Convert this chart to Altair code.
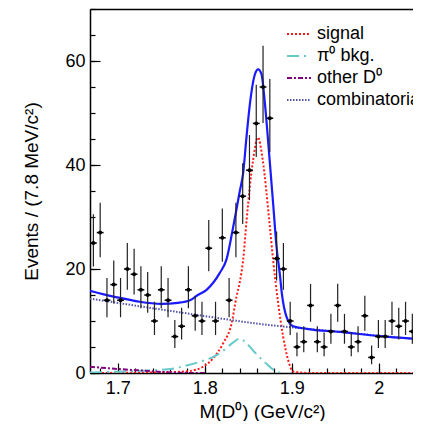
import altair as alt
import pandas as pd
import numpy as np

# ---------------- data ----------------
BIN_LO = 1.668
BIN_W = 0.0078
counts = [25, 27, 14, 17, 14, 20, 19, 16, 15, 10,
          16, 14, 7, 9, 16, 11, 10, 24, 10, 26,
          14, 27, 34, 39, 48, 55, 49, 22, 20, 10,
          5, 6, 13, 6, 5, 8, 13, 8, 5, 6,
          11, 3, 7, 7, 10, 9, 10, 8, 10]

total_m = [1.668, 1.695, 1.704, 1.725, 1.750, 1.769, 1.783, 1.792, 1.802, 1.817,
           1.825, 1.8325, 1.8402, 1.844, 1.8479, 1.8517, 1.8575, 1.8613, 1.8652, 1.869,
           1.8747, 1.8785, 1.8824, 1.8862, 1.8885, 1.8939, 1.9015, 1.9169, 1.9552, 2.0011, 2.0484]
total_v = [15.8, 14.7, 14.4, 13.7, 13.3, 13.5, 14.0, 15.0, 16.0, 19.2,
           21.9, 28.0, 35.0, 38.4, 45.4, 51.6, 57.4, 58.4, 57.4, 51.9,
           40.5, 32.6, 24.3, 19.0, 15.3, 10.8, 9.0, 8.5, 7.9, 7.1, 6.5]

signal_m = [1.668, 1.76, 1.7828, 1.798, 1.8095, 1.821, 1.8307, 1.8364, 1.8402, 1.844,
            1.848, 1.8555, 1.861, 1.8665, 1.874, 1.8785, 1.8843, 1.890, 1.8957, 1.9015,
            1.92, 2.0484]
signal_v = [0.0, 0.15, 0.4, 1.2, 2.8, 5.7, 9.5, 14.7, 17.5, 21.7,
            29.4, 41.0, 45.3, 41.0, 29.4, 21.7, 13.4, 7.0, 2.5, 0.3,
            0.0, 0.0]

pi0_m = [1.668, 1.70, 1.735, 1.7575, 1.780, 1.797, 1.811, 1.822, 1.832, 1.840,
         1.848, 1.855, 1.870, 1.882, 1.890]
pi0_v = [0.1, 0.25, 0.5, 0.7, 1.5, 2.3, 3.2, 4.4, 5.8, 6.6,
         5.7, 4.4, 1.9, 0.3, 0.0]

other_m = [1.668, 1.69, 1.715, 1.73, 1.75, 1.77, 1.80]
other_v = [1.2, 0.9, 0.6, 0.45, 0.2, 0.05, 0.0]

comb_m = [1.668, 1.790, 1.860, 1.95, 2.0484]
comb_v = [14.3, 11.2, 9.5, 8.0, 6.4]

comp_names = ["signal", "\u03c0\u2070 bkg.", "other D\u2070", "combinatorial"]
comp_colors = ["#ff1a1a", "#66c9c9", "#800080", "#5555aa"]
comp_dashes = [[2, 2], [12, 5, 2, 5], [5, 2, 2, 2], [1.5, 1.5]]

x_major = [1.7, 1.8, 1.9, 2.0]
x_minor = [round(1.68 + 0.02 * k, 2) for k in range(19)]
y_major = [0, 20, 40, 60]
y_minor = list(range(0, 71, 5))

# ---------------- tables ----------------
n = np.array(counts, dtype=float)
centers = BIN_LO + BIN_W * (np.arange(len(counts)) + 0.5)
pts = pd.DataFrame({
    "m": centers,
    "mlo": centers - BIN_W / 2,
    "mhi": centers + BIN_W / 2,
    "n": n,
    "lo": n + 0.5 - np.sqrt(n + 0.25),
    "hi": n + 0.5 + np.sqrt(n + 0.25),
})
tot = pd.DataFrame({"m": total_m, "v": total_v})
comp = pd.concat([
    pd.DataFrame({"m": signal_m, "v": signal_v, "comp": comp_names[0]}),
    pd.DataFrame({"m": pi0_m, "v": pi0_v, "comp": comp_names[1]}),
    pd.DataFrame({"m": other_m, "v": other_v, "comp": comp_names[2]}),
    pd.DataFrame({"m": comb_m, "v": comb_v, "comp": comp_names[3]}),
])

W, H = 323, 364
X_MAX = 1.668 + W / 870.0
FONT = "Liberation Sans"

sx = alt.Scale(domain=[1.668, X_MAX], nice=False, zero=False)
sy = alt.Scale(domain=[0, 70], nice=False)

ax_x_lab = alt.Axis(orient="bottom", values=x_major, format="~g", ticks=False, grid=False,
                    domain=True, domainColor="black", domainWidth=1.5,
                    labelFontSize=18, labelPadding=6, labelColor="black", labelFont=FONT,
                    title="M(D\u2070) (GeV/c\u00b2)", titleFontSize=19, titleFont=FONT,
                    titleFontWeight="normal", titleColor="black",
                    titleX=172, titleY=44, titleBaseline="alphabetic", titleAlign="center")
ax_x_major = alt.Axis(orient="top", offset=-H, values=x_major, labels=False, ticks=True,
                      tickSize=10, tickWidth=1.2, tickColor="black", domain=False, grid=False, title=None)
ax_x_minor = alt.Axis(orient="top", offset=-H, values=x_minor, labels=False, ticks=True,
                      tickSize=5, tickWidth=1.2, tickColor="black", domain=False, grid=False, title=None)
ax_x_top = alt.Axis(orient="top", labels=False, ticks=False, domain=True, domainColor="black",
                    domainWidth=1.5, grid=False, title=None)

ax_y_lab = alt.Axis(orient="left", values=y_major, ticks=False, grid=False,
                    domain=True, domainColor="black", domainWidth=1.5,
                    labelFontSize=18, labelPadding=5, labelColor="black", labelFont=FONT,
                    title="Events / (7.8 MeV/c\u00b2)", titleFontSize=19, titleFont=FONT,
                    titleFontWeight="normal", titleColor="black",
                    titleX=-59, titleY=182, titleAngle=270, titleAlign="center",
                    titleBaseline="middle")
ax_y_major = alt.Axis(orient="right", offset=-W, values=y_major, labels=False, ticks=True,
                      tickSize=10, tickWidth=1.2, tickColor="black", domain=False, grid=False, title=None)
ax_y_minor = alt.Axis(orient="right", offset=-W, values=y_minor, labels=False, ticks=True,
                      tickSize=5, tickWidth=1.2, tickColor="black", domain=False, grid=False, title=None)

leg = alt.Legend(title=None, orient="none", legendX=196, legendY=12, symbolType="stroke",
                 symbolSize=576, symbolStrokeWidth=2, labelFontSize=18, labelFont=FONT,
                 labelColor="black", labelOffset=5, rowPadding=0, padding=0, labelLimit=300)

comps = alt.Chart(comp).mark_line(strokeWidth=2, interpolate="monotone", clip=True).encode(
    x=alt.X("m:Q", scale=sx, axis=ax_x_top),
    y=alt.Y("v:Q", scale=sy, axis=None),
    color=alt.Color("comp:N", scale=alt.Scale(domain=comp_names, range=comp_colors), legend=leg),
    strokeDash=alt.StrokeDash("comp:N", scale=alt.Scale(domain=comp_names, range=comp_dashes), legend=leg),
)

total = alt.Chart(tot).mark_line(color="#1a1aff", strokeWidth=2.2, interpolate="monotone", clip=True).encode(
    x=alt.X("m:Q", scale=sx, axis=ax_x_minor),
    y=alt.Y("v:Q", scale=sy, axis=ax_y_minor),
)

vbars = alt.Chart(pts).mark_rule(color="#222222", strokeWidth=1.2, clip=True).encode(
    x=alt.X("m:Q", scale=sx, axis=ax_x_lab),
    y=alt.Y("lo:Q", scale=sy, axis=ax_y_lab),
    y2="hi:Q",
)

hbars = alt.Chart(pts).mark_rule(color="black", strokeWidth=1.5, clip=True).encode(
    x=alt.X("mlo:Q", scale=sx, axis=ax_x_major),
    x2="mhi:Q",
    y=alt.Y("n:Q", scale=sy, axis=ax_y_major),
)

points = alt.Chart(pts).mark_point(filled=True, color="black", size=16, shape="circle",
                                   opacity=1, clip=True).encode(
    x=alt.X("m:Q", scale=sx, axis=None),
    y=alt.Y("n:Q", scale=sy, axis=None),
)

chart = alt.layer(comps, total, vbars, hbars, points).resolve_axis(
    x="independent", y="independent"
).properties(
    width=W, height=H,
    autosize=alt.AutoSizeParams(type="none"),
    padding={"left": 82, "top": 1, "right": 0, "bottom": 48},
).configure_view(stroke=None)

chart.save("out.html", embed_options={"renderer": "svg", "actions": False})
